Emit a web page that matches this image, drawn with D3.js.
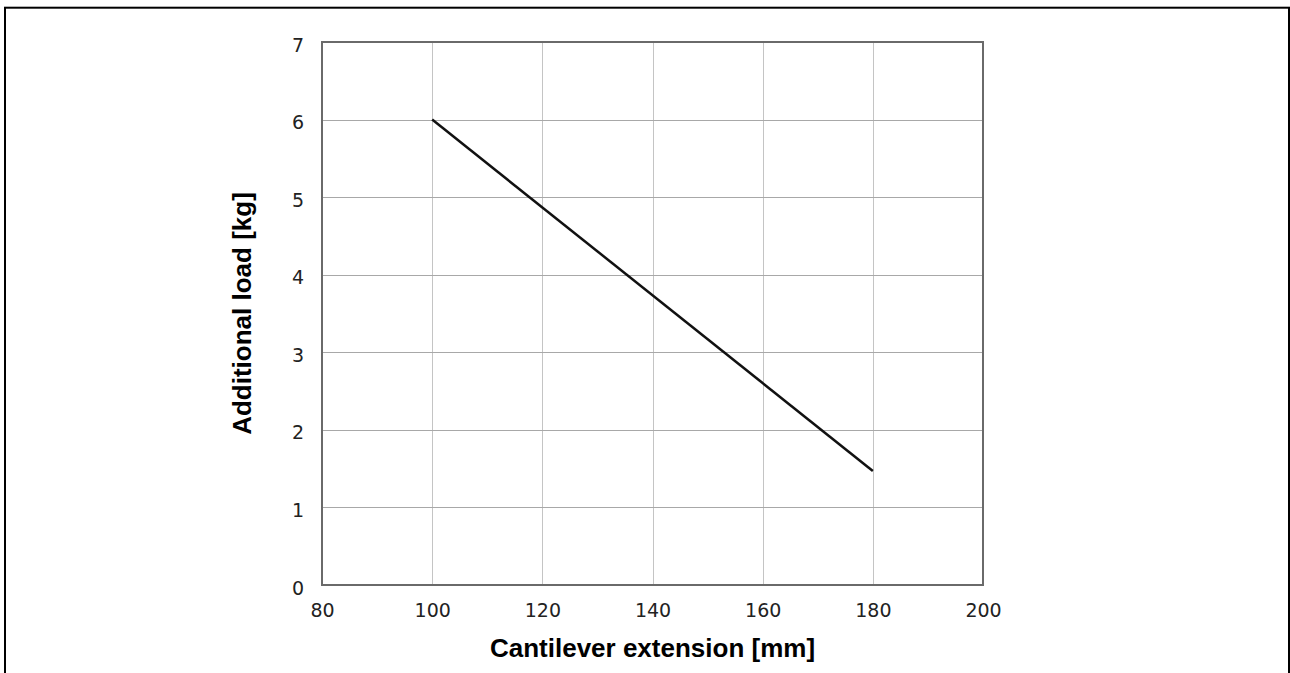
<!DOCTYPE html>
<html>
<head>
<meta charset="utf-8">
<script src="https://cdn.jsdelivr.net/npm/d3@7"></script>
<style>
  html, body { margin: 0; padding: 0; background: #fff; }
  svg { display: block; }
</style>
</head>
<body>
<svg id="chart" width="1290" height="673"></svg>
<script>
// Data
const extension = [100, 180];          // mm
const load = [6.0, 1.47];              // kg
const xTicks = [80, 100, 120, 140, 160, 180, 200];
const yTicks = [0, 1, 2, 3, 4, 5, 6, 7];
const xTitle = "Cantilever extension [mm]";
const yTitle = "Additional load [kg]";

(function () {
const svg = d3.select("#chart");
const pL = 322, pR = 983, pT = 42, pB = 585;

// outer border
svg.append("rect")
  .attr("x", 5).attr("y", 7.7)
  .attr("width", 1284).attr("height", 720)
  .attr("fill", "none").attr("stroke", "#000").attr("stroke-width", 2);

const x = d3.scaleLinear().domain([80, 200]).range([pL, pR]);
const y = d3.scaleLinear().domain([0, 7]).range([pB, pT]);

// grid
const grid = svg.append("g");
grid.selectAll("line.vx").data(xTicks.slice(1, -1)).join("line")
  .attr("x1", d => Math.round(x(d)) + 0.5).attr("x2", d => Math.round(x(d)) + 0.5)
  .attr("y1", pT).attr("y2", pB)
  .attr("stroke", "#c4c4c4").attr("stroke-width", 1);
grid.selectAll("line.hy").data(yTicks.slice(1, -1)).join("line")
  .attr("y1", d => Math.round(y(d)) + 0.5).attr("y2", d => Math.round(y(d)) + 0.5)
  .attr("x1", pL).attr("x2", pR)
  .attr("stroke", "#a8a8a8").attr("stroke-width", 1);

// axes (labels only, using d3 axes)
const xAxis = svg.append("g")
  .attr("transform", `translate(0,${pB})`)
  .call(d3.axisBottom(x).tickValues(xTicks).tickFormat(d3.format("d")).tickSize(0).tickPadding(0));
xAxis.select(".domain").remove();
xAxis.selectAll("text")
  .attr("y", 32).attr("dy", null)
  .attr("font-family", "DejaVu Sans, Verdana, sans-serif")
  .attr("font-size", 19).attr("fill", "#222");

const yAxis = svg.append("g")
  .attr("transform", `translate(${pL},0)`)
  .call(d3.axisLeft(y).tickValues(yTicks).tickFormat(d3.format("d")).tickSize(0).tickPadding(0));
yAxis.select(".domain").remove();
yAxis.selectAll("text")
  .attr("x", -18).attr("dy", "9")
  .attr("font-family", "DejaVu Sans, Verdana, sans-serif")
  .attr("font-size", 19).attr("fill", "#222");

// frame
svg.append("rect")
  .attr("x", pL).attr("y", pT)
  .attr("width", pR - pL).attr("height", pB - pT)
  .attr("fill", "none").attr("stroke", "#6a6a6a").attr("stroke-width", 2);

// data line
const line = d3.line().x((d, i) => x(extension[i])).y(d => y(d));
svg.append("path")
  .datum(load)
  .attr("d", line)
  .attr("fill", "none").attr("stroke", "#111").attr("stroke-width", 2.5);

// titles
svg.append("text")
  .attr("x", (pL + pR) / 2).attr("y", 657)
  .attr("text-anchor", "middle")
  .attr("font-family", "Liberation Sans, Arial, sans-serif")
  .attr("font-weight", "bold").attr("font-size", 26).attr("fill", "#000")
  .text(xTitle);

svg.append("text")
  .attr("transform", `translate(251,${(pT + pB) / 2}) rotate(-90)`)
  .attr("text-anchor", "middle")
  .attr("font-family", "Liberation Sans, Arial, sans-serif")
  .attr("font-weight", "bold").attr("font-size", 26).attr("fill", "#000")
  .text(yTitle);
})();
</script>
</body>
</html>
